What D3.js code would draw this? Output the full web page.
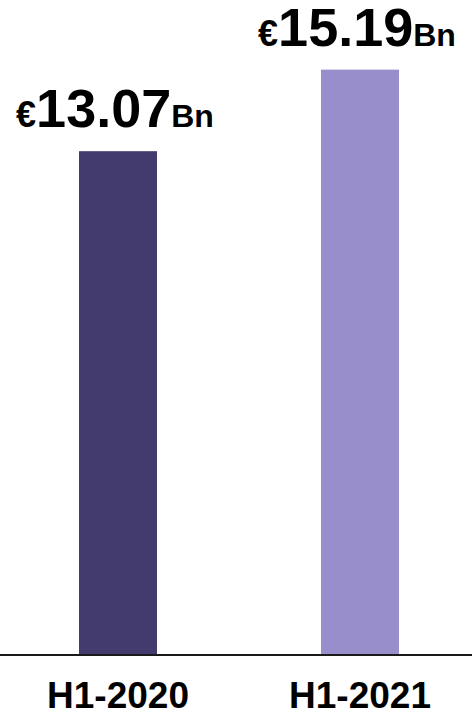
<!DOCTYPE html>
<html>
<head>
    <meta charset="UTF-8">
    <title>Chart</title>
    <script src="https://cdn.jsdelivr.net/npm/d3@7"></script>
    <style>
        html, body { margin: 0; padding: 0; background: #fff; }
        svg { display: block; font-family: "Liberation Sans", Arial, sans-serif; }
    </style>
</head>
<body>
    <div id="graph-container"></div>

    <script>
        // Data
        const periods = ["H1-2020", "H1-2021"];
        const revenue = [13.07, 15.19];
        const barColors = ["#433a6e", "#988ecb"];

        const width = 472;
        const height = 714;
        const margin = { top: 0, right: 112, bottom: 60, left: 118 };
        const barWidth = 78;

        const svg = d3.select("#graph-container")
            .append("svg")
            .attr("width", width)
            .attr("height", height);

        const x = d3.scalePoint()
            .domain(periods)
            .range([margin.left, width - margin.right]);

        const y = d3.scaleLinear()
            .domain([0, 17])
            .range([height - margin.bottom, margin.top]);

        const data = periods.map((p, i) => ({ period: p, value: revenue[i], color: barColors[i] }));

        // Bars
        svg.selectAll(".bar")
            .data(data)
            .join("rect")
            .attr("class", "bar")
            .attr("x", d => x(d.period) - barWidth / 2)
            .attr("y", d => y(d.value))
            .attr("width", barWidth)
            .attr("height", d => y(0) - y(d.value))
            .attr("fill", d => d.color);

        // Baseline
        svg.append("line")
            .attr("x1", 0)
            .attr("x2", width)
            .attr("y1", y(0) + 1)
            .attr("y2", y(0) + 1)
            .attr("stroke", "#1a1a1a")
            .attr("stroke-width", 2);

        // Value labels
        const labels = svg.selectAll(".value-label")
            .data(data)
            .join("text")
            .attr("class", "value-label")
            .attr("x", d => x(d.period) - 3)
            .attr("y", d => y(d.value) - 24)
            .attr("text-anchor", "middle")
            .attr("font-weight", "bold")
            .attr("fill", "#000");

        labels.append("tspan").attr("font-size", "36px").text("€");
        labels.append("tspan").attr("font-size", "54px").text(d => d.value.toFixed(2));
        labels.append("tspan").attr("font-size", "32px").text("Bn");

        // Category labels
        svg.selectAll(".cat-label")
            .data(data)
            .join("text")
            .attr("class", "cat-label")
            .attr("x", d => x(d.period))
            .attr("y", y(0) + 54)
            .attr("text-anchor", "middle")
            .attr("font-weight", "bold")
            .attr("font-size", "37px")
            .attr("fill", "#000")
            .text(d => d.period);
    </script>
</body>
</html>
